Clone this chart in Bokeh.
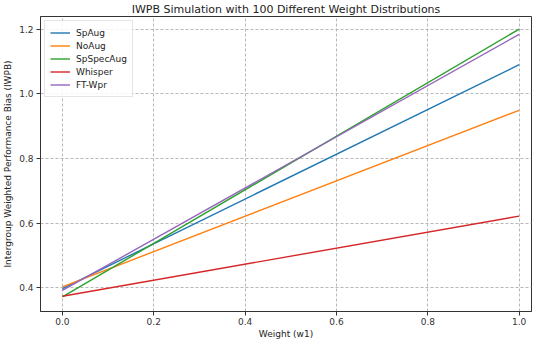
from bokeh.plotting import figure
from bokeh.models import FixedTicker, PrintfTickFormatter, Range1d, Legend, LegendItem
from bokeh.embed import file_html
from bokeh.resources import INLINE

# Data
weight = [0.0, 1.0]
series_names = ["SpAug", "NoAug", "SpSpecAug", "Whisper", "FT-Wpr"]
spaug = [0.398, 1.090]
noaug = [0.403, 0.949]
spspecaug = [0.372, 1.200]
whisper = [0.374, 0.622]
ftwpr = [0.392, 1.184]
colors = ["#1f77b4", "#ff7f0e", "#2ca02c", "#d62728", "#9467bd"]
x_ticks = [0.0, 0.2, 0.4, 0.6, 0.8, 1.0]
y_ticks = [0.4, 0.6, 0.8, 1.0, 1.2]

FONT = "DejaVu Sans"

p = figure(frame_width=491, frame_height=295, output_backend="svg", toolbar_location=None,
           x_range=Range1d(-0.048, 1.027), y_range=Range1d(0.327, 1.239),
           min_border_left=36, min_border_right=1, min_border_top=12, min_border_bottom=28,
           title="IWPB Simulation with 100 Different Weight Distributions")

p.title.align = "center"
p.title.text_font = FONT
p.title.text_font_size = "11px"
p.title.text_font_style = "normal"
p.title.text_color = "#222222"
p.title.standoff = 1
p.title.offset = 0

p.outline_line_color = "#333333"
p.outline_line_width = 1
p.background_fill_color = "white"
p.border_fill_color = "white"

for ax in (p.xaxis[0], p.yaxis[0]):
    ax.axis_line_color = "#333333"
    ax.major_tick_line_color = "#333333"
    ax.major_tick_out = 4
    ax.major_tick_in = 0
    ax.minor_tick_line_color = None
    ax.major_label_text_font = FONT
    ax.major_label_text_font_size = "9px"
    ax.major_label_text_color = "#333333"
    ax.major_label_standoff = 3
    ax.axis_label_text_font = FONT
    ax.axis_label_text_font_size = "9px"
    ax.axis_label_text_font_style = "normal"
    ax.axis_label_text_color = "#222222"
    ax.axis_label_standoff = 3

p.xaxis[0].major_label_standoff = 2
p.xaxis[0].axis_label_standoff = 1

p.xaxis.ticker = FixedTicker(ticks=x_ticks)
p.yaxis.ticker = FixedTicker(ticks=y_ticks)
p.xaxis.formatter = PrintfTickFormatter(format="%.1f")
p.yaxis.formatter = PrintfTickFormatter(format="%.1f")
p.xaxis.axis_label = "Weight (w1)"
p.yaxis.axis_label = "Intergroup Weighted Performance Bias (IWPB)"

for g in (p.xgrid[0], p.ygrid[0]):
    g.grid_line_color = "#b0b0b0"
    g.grid_line_dash = "3 2"
    g.grid_line_width = 1
    g.grid_line_alpha = 0.9

items = []
for name, vals, c in zip(series_names, [spaug, noaug, spspecaug, whisper, ftwpr], colors):
    r = p.line(weight, vals, line_color=c, line_width=1.4)
    items.append(LegendItem(label=name, renderers=[r]))

legend = Legend(items=items, location="top_left")
legend.margin = 4
legend.padding = 5
legend.spacing = 0
legend.label_height = 13
legend.glyph_height = 13
legend.glyph_width = 20
legend.label_standoff = 6
legend.label_text_font = FONT
legend.label_text_font_size = "9px"
legend.label_text_color = "#222222"
legend.border_line_color = "#cccccc"
legend.border_line_width = 1
legend.background_fill_alpha = 0.85
p.add_layout(legend, "center")

open("out.html", "w").write(file_html(p, INLINE))
